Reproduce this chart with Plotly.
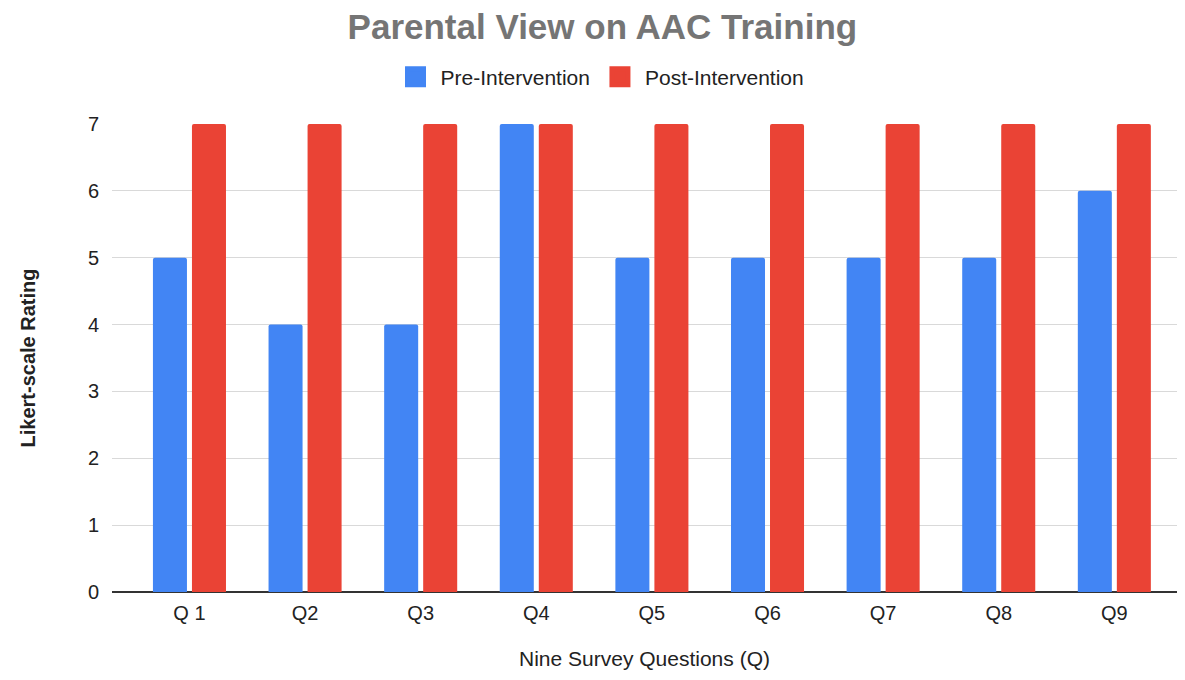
import plotly.graph_objects as go

categories = ["Q 1", "Q2", "Q3", "Q4", "Q5", "Q6", "Q7", "Q8", "Q9"]
pre_values = [5, 4, 4, 7, 5, 5, 5, 5, 6]
post_values = [7, 7, 7, 7, 7, 7, 7, 7, 7]
y_ticks = [0, 1, 2, 3, 4, 5, 6, 7]
series_names = ["Pre-Intervention", "Post-Intervention"]
series_colors = ["#4285F4", "#EA4335"]

FONT = "Liberation Sans, Arial, sans-serif"

fig = go.Figure()
for name, vals, col in zip(series_names, [pre_values, post_values], series_colors):
    fig.add_trace(go.Bar(x=categories, y=vals, name=name, showlegend=False,
                         legendgroup=name, marker=dict(color=col, line=dict(width=0))))
# legend entries with larger square swatches
for name, col in zip(series_names, series_colors):
    fig.add_trace(go.Scatter(x=[None], y=[None], mode="markers", name=name,
                             legendgroup=name,
                             marker=dict(symbol="square", size=16, color=col,
                                         line=dict(color=col, width=5))))

fig.update_layout(
    width=1177, height=672,
    paper_bgcolor="white", plot_bgcolor="white",
    font=dict(family=FONT, size=20, color="#222222"),
    barmode="group", bargap=0.325, bargroupgap=0.128, barcornerradius=2,
    margin=dict(l=104, r=8, t=116, b=88),
    title=dict(text="<b>Parental View on AAC Training</b>", x=0.505, xref="container",
               xanchor="center", y=0.972, yref="container", yanchor="middle",
               font=dict(family=FONT, size=35, color="#757575")),
    legend=dict(orientation="h", x=0.503, xref="container", xanchor="center",
                y=0.897, yref="container", yanchor="middle",
                font=dict(family=FONT, size=21, color="#222222"),
                itemsizing="trace", itemwidth=40, traceorder="normal"),
    xaxis=dict(range=[-0.670, 8.542], showgrid=False, showline=False, ticks="",
               ticklabelstandoff=7,
               tickfont=dict(size=20, color="#222222"),
               title=dict(text="Nine Survey Questions (Q)", standoff=28,
                          font=dict(size=21, color="#222222"))),
    yaxis=dict(range=[0, 7], tickvals=y_ticks, showgrid=True, gridcolor="#D9D9D9",
               gridwidth=1, zeroline=True, zerolinecolor="#333333", zerolinewidth=1.5,
               ticks="", ticklabelstandoff=12, tickfont=dict(size=20, color="#222222"),
               title=dict(text="<b>Likert-scale Rating</b>", standoff=46,
                          font=dict(size=20, color="#222222"))),
)

fig.write_html("out.html")
